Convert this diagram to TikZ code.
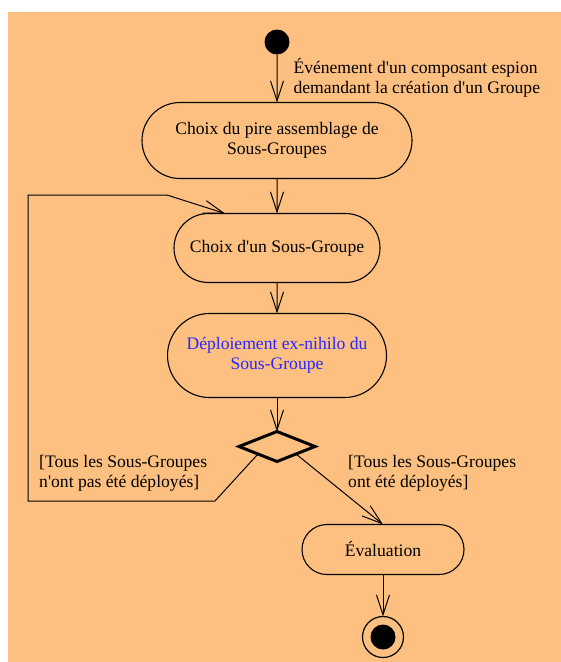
\documentclass[tikz,border=0pt]{standalone}
\usepackage{fontspec}
\setmainfont{Liberation Serif}
\usetikzlibrary{arrows.meta,positioning,shapes.geometric,shapes.misc,calc}

\definecolor{sheet}{RGB}{253,192,128}
\definecolor{deploy}{RGB}{40,40,255}

\newcommand{\q}{\textquotesingle}

\begin{document}
\begin{tikzpicture}[
  x=1pt, y=-1pt,
  font=\fontsize{17.6}{20.2}\selectfont,
  >={Straight Barb[length=20pt,width=13pt]},
  actbox/.style={
    draw, rounded rectangle, line width=1.1pt,
    inner sep=0pt, outer sep=0pt, align=center
  },
  choice/.style={
    draw, diamond, line width=3pt, inner sep=0pt, outer sep=0pt,
    minimum width=76pt, minimum height=30pt
  },
  flow/.style={->, line width=1pt},
  guard/.style={anchor=north west, align=left, inner sep=0pt}
]

\useasboundingbox (0,0) rectangle (561,662);
\fill[sheet] (8,12) rectangle (561,662);

% =============================================================
% activities, top to bottom
% =============================================================
\node[circle, fill=black, minimum size=25pt, inner sep=0pt, outer sep=0pt]
   (init) at (277,42) {};

\node[actbox, below=48pt of init, minimum width=270pt, minimum height=76pt] (worst)
   {Choix du pire assemblage de\\Sous-Groupes};

\node[actbox, below=35pt of worst, minimum width=206pt, minimum height=69pt] (pick)
   {Choix d\q un Sous-Groupe};

\node[actbox, below=31pt of pick, minimum width=219pt, minimum height=84pt,
      text=deploy] (deploy)
   {Déploiement ex-nihilo du\\Sous-Groupe};

\node[choice, below=34pt of deploy] (test) {};

\node[actbox, below=63pt of test, xshift=106pt, minimum width=162pt,
      minimum height=50pt] (eval) {Évaluation};

% final state: ring + dot
\node[circle, draw, line width=1.2pt, minimum size=41pt, inner sep=0pt,
      outer sep=0pt, below=42pt of eval] (final) {};
\node[circle, fill=black, minimum size=25pt, inner sep=0pt] (finaldot) at (final) {};

% =============================================================
% transitions
% =============================================================
\draw[flow] (init) -- node[guard, pos=0.07, xshift=16pt]
   {Événement d\q un composant espion\\demandant la création d\q un Groupe} (worst);

\draw[flow] (worst) -- (pick);
\draw[flow] (pick) -- (deploy);
\draw[flow] (deploy) -- (test);

% loop back while some sub-group is left
\coordinate (knee) at (215,501);
\coordinate (loopsw) at (28,501);
\coordinate (loopnw) at (28,195);
\coordinate (loopne) at (167,195);
\draw[flow] (test.south west) -- (knee) -- (loopsw) -- (loopnw) -- (loopne)
   -- ($(pick.north)+(-52,0)$);

\draw[flow] (test.south east) -- (eval.north);
\draw[flow] (eval) -- (final);

% guards
\node[guard] (notdone) at (39,455)
   {[Tous les Sous-Groupes\\n\q ont pas été déployés]};
\node[guard] (done) at (348,455)
   {[Tous les Sous-Groupes\\ont été déployés]};

\end{tikzpicture}
\end{document}
